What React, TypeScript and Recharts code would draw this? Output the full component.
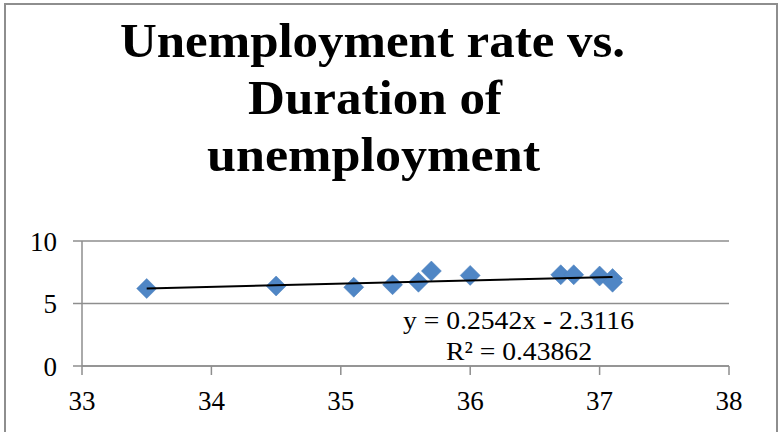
import React from "react";
import {
  ScatterChart,
  Scatter,
  XAxis,
  YAxis,
  CartesianGrid,
} from "recharts";

const durationWeeks = [33.5, 34.5, 35.1, 35.4, 35.6, 35.7, 36.0, 36.7, 36.8, 37.0, 37.1, 37.1];
const unemploymentRate = [6.2, 6.4, 6.3, 6.5, 6.7, 7.6, 7.25, 7.3, 7.3, 7.2, 7.0, 6.7];

// trendline endpoints
const trendX = [33.5, 37.1];
const trendY = [6.2, 7.12];

const xTicks = [33, 34, 35, 36, 37, 38];
const yTicks = [0, 5, 10];

const titleLines = ["Unemployment rate vs.", "Duration of", "unemployment"];
const equationLines = ["y = 0.2542x - 2.3116", "R² = 0.43862"];

const points = durationWeeks.map((x, i) => ({ x, y: unemploymentRate[i] }));
const trend = trendX.map((x, i) => ({ x, y: trendY[i] }));

const serif = "'Liberation Serif', 'DejaVu Serif', serif";

const Diamond = (props: any) => {
  const { cx, cy } = props;
  if (cx == null || cy == null) return <g />;
  const r = 10;
  return (
    <polygon
      points={`${cx},${cy - r} ${cx + r},${cy} ${cx},${cy + r} ${cx - r},${cy}`}
      fill="#4F86C5"
      stroke="#4A7EBB"
      strokeWidth={0.5}
    />
  );
};

const NoDot = () => <g />;

export default function App() {
  const tickStyle = { fontFamily: serif, fontSize: 27, fill: "#000" };
  return (
    <div
      style={{
        position: "absolute",
        left: 0,
        top: 0,
        width: 781,
        height: 432,
        overflow: "hidden",
        background: "#fff",
      }}
    >
      <div
        style={{
          position: "absolute",
          left: 4,
          top: 3,
          width: 770,
          height: 460,
          border: "2px solid #8e8e8e",
        }}
      />
      <ScatterChart
        width={781}
        height={432}
        margin={{ top: 241, right: 52, bottom: 26, left: 17 }}
        style={{ position: "absolute", left: 0, top: 0 }}
      >
        <CartesianGrid horizontal vertical={false} stroke="#8e8e8e" strokeWidth={1.5} />
        <XAxis
          type="number"
          dataKey="x"
          domain={[33, 38]}
          ticks={xTicks}
          height={40}
          tickSize={9}
          tickMargin={16}
          stroke="#8e8e8e"
          strokeWidth={1.5}
          tick={tickStyle}
          allowDataOverflow
        />
        <YAxis
          type="number"
          dataKey="y"
          domain={[0, 10]}
          ticks={yTicks}
          width={65}
          tickSize={9}
          tickMargin={16}
          stroke="#8e8e8e"
          strokeWidth={1.5}
          tick={tickStyle}
        />
        <Scatter data={points} shape={<Diamond />} isAnimationActive={false} />
        <Scatter
          data={trend}
          line={{ stroke: "#000", strokeWidth: 2 }}
          shape={<NoDot />}
          isAnimationActive={false}
        />
      </ScatterChart>
      <svg
        width={781}
        height={432}
        style={{ position: "absolute", left: 0, top: 0, pointerEvents: "none" }}
      >
        <g fontFamily={serif} fontWeight="bold" fontSize={48} fill="#000">
          <text x={120} y={57} textLength={505} lengthAdjust="spacingAndGlyphs">
            {titleLines[0]}
          </text>
          <text x={248} y={114} textLength={254} lengthAdjust="spacingAndGlyphs">
            {titleLines[1]}
          </text>
          <text x={207} y={171} textLength={333} lengthAdjust="spacingAndGlyphs">
            {titleLines[2]}
          </text>
        </g>
        <g fontFamily={serif} fontSize={26} fill="#000">
          <text x={403} y={329} textLength={231} lengthAdjust="spacingAndGlyphs">
            {equationLines[0]}
          </text>
          <text x={446} y={360} textLength={146} lengthAdjust="spacingAndGlyphs">
            {equationLines[1]}
          </text>
        </g>
      </svg>
    </div>
  );
}
